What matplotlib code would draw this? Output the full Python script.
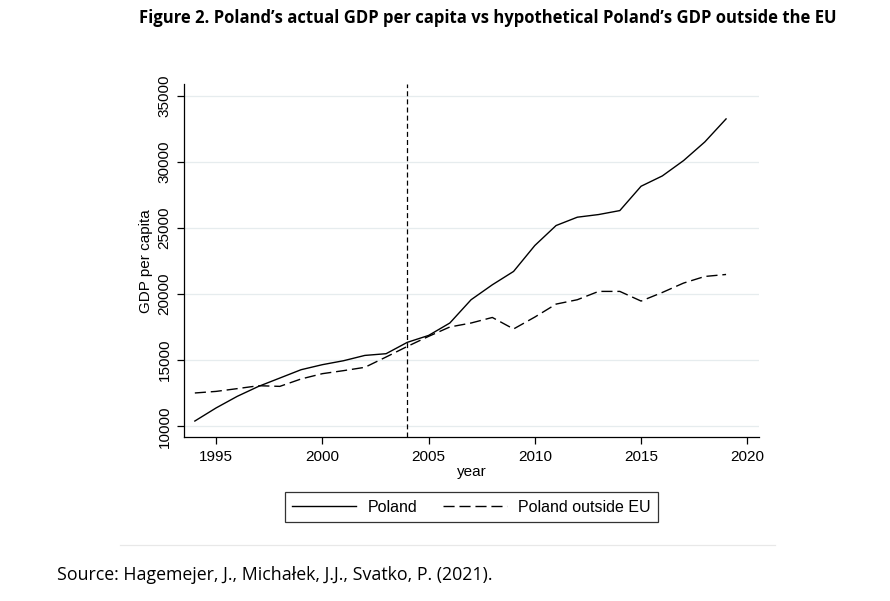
import matplotlib
matplotlib.use("Agg")
import matplotlib.pyplot as plt
from matplotlib.lines import Line2D

years = list(range(1994, 2020))
poland = [10400, 11390, 12270, 13020, 13650, 14280, 14660, 14960, 15360, 15490,
          16350, 16870, 17810, 19570, 20700, 21710, 23670, 25180, 25810, 26010,
          26310, 28150, 28930, 30090, 31500, 33240]
poland_outside = [12520, 12640, 12850, 13070, 13020, 13580, 13980, 14210, 14460, 15240,
                  16040, 16800, 17510, 17810, 18230, 17360, 18260, 19240, 19570, 20200,
                  20200, 19470, 20120, 20830, 21330, 21480]
xticks = [1995, 2000, 2005, 2010, 2015, 2020]
yticks = [10000, 15000, 20000, 25000, 30000, 35000]
eu_entry = 2004

plt.rcParams['font.family'] = ['Liberation Sans', 'DejaVu Sans']

fig = plt.figure(figsize=(8.9, 6.01), dpi=100)
ax = fig.add_axes([184/890, 1-437.3/601, (759-184)/890, (437.3-84)/601])

ax.plot(years, poland, color='black', lw=1.0, label='Poland')
ax.plot(years, poland_outside, color='black', lw=1.0, dashes=(8, 3.5), label='Poland outside EU')
ax.axvline(eu_entry, color='black', lw=0.9, dashes=(4, 2.5))

ax.set_xlim(1993.49, 2020.55)
ax.set_ylim(9170, 35880)
ax.set_xticks(xticks)
ax.set_yticks(yticks)
ax.set_yticklabels([str(v) for v in yticks], rotation=90, va='center')
ax.tick_params(axis='both', labelsize=11, length=5, width=0.9, color='black', pad=4)
ax.grid(axis='y', color='#e6ecee', lw=0.9)
ax.set_axisbelow(True)
for s in ['top', 'right']:
    ax.spines[s].set_visible(False)
for s in ['left', 'bottom']:
    ax.spines[s].set_linewidth(0.9)

ax.set_xlabel('year', fontsize=11, labelpad=1)
ax.set_ylabel('GDP per capita', fontsize=11, labelpad=3)

leg = ax.legend(loc='center', bbox_to_anchor=(471.5/890, 1-507/601), bbox_transform=fig.transFigure,
                ncol=2, fontsize=11.5, frameon=True, fancybox=False, edgecolor='black',
                handlelength=4.0, columnspacing=1.6, borderpad=0.45, handletextpad=0.7)
leg.get_frame().set_linewidth(0.9)
for h in leg.get_lines():
    h.set_linewidth(1.0)

fig.text(488/890, 1-18/601, 'Figure 2. Poland\u2019s actual GDP per capita vs hypothetical Poland\u2019s GDP outside the EU',
         ha='center', va='center', fontsize=12, fontweight='bold', family=['Open Sans', 'DejaVu Sans'])
fig.add_artist(Line2D([120/890, 775/890], [1-545/601, 1-545/601], color='#e8e8e8', lw=0.9))
fig.text(57/890, 1-575/601, 'Source: Hagemejer, J., Michałek, J.J., Svatko, P. (2021).',
         ha='left', va='center', fontsize=12.8, family=['Open Sans', 'DejaVu Sans'])

fig.savefig('out.png', dpi=100)
